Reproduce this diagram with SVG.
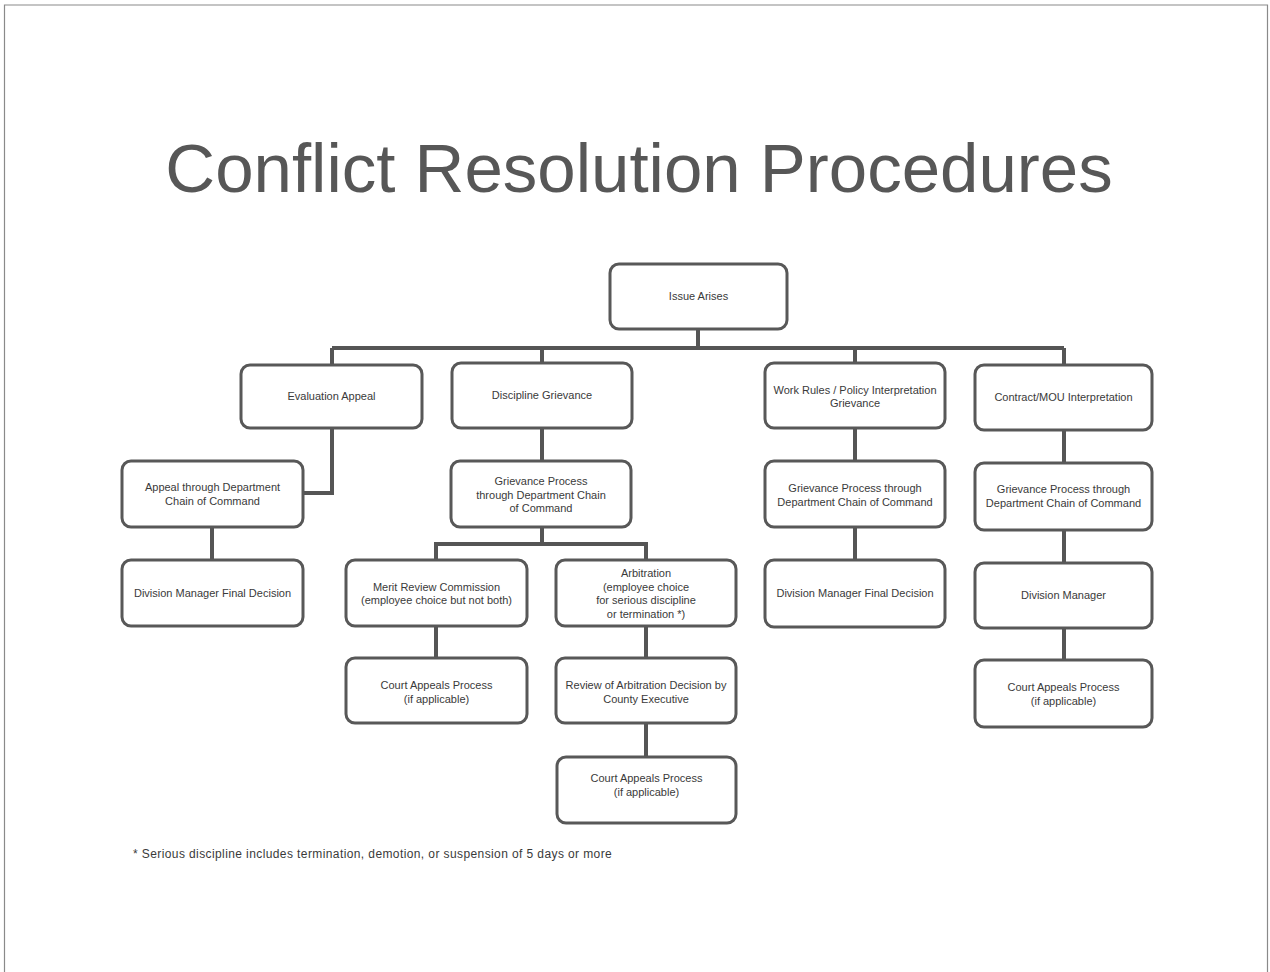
<svg xmlns="http://www.w3.org/2000/svg" width="1270" height="972" viewBox="0 0 1270 972">
<style>
.box{fill:#fff;stroke:#585858;stroke-width:3}
.lbl{font-family:"Liberation Sans",Arial,sans-serif;font-size:11px;fill:#3a3a3a;text-anchor:middle}
.con{fill:none;stroke:#555;stroke-width:4}
.frame{fill:none;stroke:#8a8a8a;stroke-width:1.2}
</style>
<rect x="0" y="0" width="1270" height="972" fill="#fff"/>
<path class="frame" d="M4.5,972 V5 H1267.5 V972"/>
<text x="639" y="192" font-family="'Liberation Sans',Arial,sans-serif" font-size="69" fill="#575757" text-anchor="middle">Conflict Resolution Procedures</text>

<g id="connectors">
<path class="con" d="M698,329 V348"/>
<path class="con" d="M332,348 H1064"/>
<path class="con" d="M332,348 V365"/>
<path class="con" d="M542,348 V363"/>
<path class="con" d="M855,348 V363"/>
<path class="con" d="M1064,348 V365"/>
<path class="con" d="M332,428 V493 H303"/>
<path class="con" d="M212,527 V560"/>
<path class="con" d="M542,428 V461"/>
<path class="con" d="M542,527 V544"/>
<path class="con" d="M436,560 V544 H646 V560"/>
<path class="con" d="M436,626 V658"/>
<path class="con" d="M646,626 V658"/>
<path class="con" d="M646,723 V757"/>
<path class="con" d="M855,428 V461"/>
<path class="con" d="M855,527 V560"/>
<path class="con" d="M1064,430 V463"/>
<path class="con" d="M1064,530 V563"/>
<path class="con" d="M1064,628 V660"/>
</g>

<g id="n-issue"><rect class="box" x="610" y="264" width="177" height="65" rx="9"/><text class="lbl" x="698.5" y="300">Issue Arises</text></g>
<g id="n-eval"><rect class="box" x="241" y="365" width="181" height="63" rx="9"/><text class="lbl" x="331.5" y="400">Evaluation Appeal</text></g>
<g id="n-disc"><rect class="box" x="452" y="363" width="180" height="65" rx="9"/><text class="lbl" x="542" y="399">Discipline Grievance</text></g>
<g id="n-work"><rect class="box" x="765" y="363" width="180" height="65" rx="9"/><text class="lbl" x="855" y="394">Work Rules / Policy Interpretation</text><text class="lbl" x="855" y="407">Grievance</text></g>
<g id="n-contract"><rect class="box" x="975" y="365" width="177" height="65" rx="9"/><text class="lbl" x="1063.5" y="401">Contract/MOU Interpretation</text></g>

<g id="n-appeal"><rect class="box" x="122" y="461" width="181" height="66" rx="9"/><text class="lbl" x="212.5" y="491">Appeal through Department</text><text class="lbl" x="212.5" y="505">Chain of Command</text></g>
<g id="n-gp1"><rect class="box" x="451" y="461" width="180" height="66" rx="9"/><text class="lbl" x="541" y="485">Grievance Process</text><text class="lbl" x="541" y="499">through Department Chain</text><text class="lbl" x="541" y="512">of Command</text></g>
<g id="n-gp2"><rect class="box" x="765" y="461" width="180" height="66" rx="9"/><text class="lbl" x="855" y="492">Grievance Process through</text><text class="lbl" x="855" y="506">Department Chain of Command</text></g>
<g id="n-gp3"><rect class="box" x="975" y="463" width="177" height="67" rx="9"/><text class="lbl" x="1063.5" y="493">Grievance Process through</text><text class="lbl" x="1063.5" y="507">Department Chain of Command</text></g>

<g id="n-dm1"><rect class="box" x="122" y="560" width="181" height="66" rx="9"/><text class="lbl" x="212.5" y="597">Division Manager Final Decision</text></g>
<g id="n-merit"><rect class="box" x="346" y="560" width="181" height="66" rx="9"/><text class="lbl" x="436.5" y="591">Merit Review Commission</text><text class="lbl" x="436.5" y="604">(employee choice but not both)</text></g>
<g id="n-arb"><rect class="box" x="556" y="560" width="180" height="66" rx="9"/><text class="lbl" x="646" y="577">Arbitration</text><text class="lbl" x="646" y="591">(employee choice</text><text class="lbl" x="646" y="604">for serious discipline</text><text class="lbl" x="646" y="618">or termination *)</text></g>
<g id="n-dm2"><rect class="box" x="765" y="560" width="180" height="67" rx="9"/><text class="lbl" x="855" y="597">Division Manager Final Decision</text></g>
<g id="n-dm3"><rect class="box" x="975" y="563" width="177" height="65" rx="9"/><text class="lbl" x="1063.5" y="599">Division Manager</text></g>

<g id="n-court1"><rect class="box" x="346" y="658" width="181" height="65" rx="9"/><text class="lbl" x="436.5" y="689">Court Appeals Process</text><text class="lbl" x="436.5" y="703">(if applicable)</text></g>
<g id="n-review"><rect class="box" x="556" y="658" width="180" height="65" rx="9"/><text class="lbl" x="646" y="689">Review of Arbitration Decision by</text><text class="lbl" x="646" y="703">County Executive</text></g>
<g id="n-court3"><rect class="box" x="975" y="660" width="177" height="67" rx="9"/><text class="lbl" x="1063.5" y="691">Court Appeals Process</text><text class="lbl" x="1063.5" y="705">(if applicable)</text></g>
<g id="n-court2"><rect class="box" x="557" y="757" width="179" height="66" rx="9"/><text class="lbl" x="646.5" y="782">Court Appeals Process</text><text class="lbl" x="646.5" y="796">(if applicable)</text></g>

<text x="133" y="858" font-family="'Liberation Sans',Arial,sans-serif" font-size="12" letter-spacing="0.4" fill="#3a3a3a">* Serious discipline includes termination, demotion, or suspension of 5 days or more</text>
</svg>
